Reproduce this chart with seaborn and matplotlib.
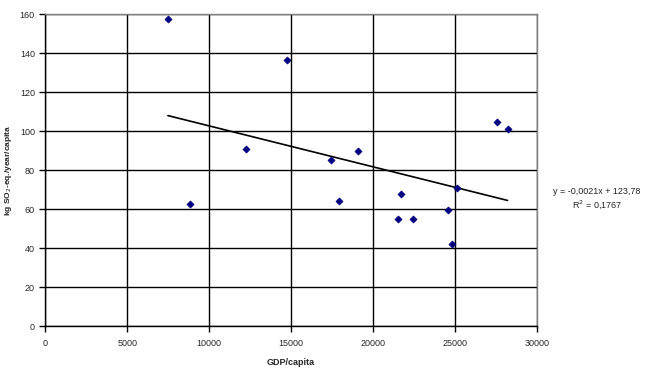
import matplotlib
matplotlib.use('Agg')
import matplotlib.pyplot as plt
import seaborn as sb
import numpy as np
import pandas as pd

gdp = [7480, 8840, 12220, 14740, 17440, 17890, 19050,
       21730, 21510, 22460, 24570, 24800, 25120, 27560, 28200]
so2 = [157.7, 62.6, 90.9, 136.7, 85.3, 64.4, 89.9,
       68.0, 54.9, 55.2, 59.5, 42.0, 70.8, 104.8, 101.3]
slope = -0.0021
intercept = 123.78
r2_text = '0,1767'

var = pd.DataFrame({'gdp': gdp, 'so2': so2})

sb.set_style('white')
plt.rcParams['font.family'] = ['Liberation Sans', 'DejaVu Sans']

fig = plt.figure(figsize=(6.46, 3.74), dpi=100)
ax = fig.add_axes([0.0701, 0.1275, 0.7612, 0.8342])

sb.scatterplot(x='gdp', y='so2', data=var, marker='D', color='#000080',
               s=13, edgecolor='#000080', linewidth=0.5, ax=ax, zorder=3)

xs = np.array([min(gdp), max(gdp)])
ax.plot(xs, slope * xs + intercept, color='black', lw=1.2, zorder=2)

ax.set_xlim(0, 30000)
ax.set_ylim(0, 160)
ax.set_xticks(range(0, 30001, 5000))
ax.set_yticks(range(0, 161, 20))
ax.grid(True, color='black', lw=1)
ax.set_axisbelow(True)
for side in ['top', 'right']:
    ax.spines[side].set_color('#808080')
for side in ['left', 'bottom']:
    ax.spines[side].set_color('black')
for sp in ax.spines.values():
    sp.set_linewidth(1)
ax.tick_params(axis='both', direction='out', length=4, width=1, color='black',
               labelsize=6.5, bottom=True, left=True)
ax.tick_params(axis='x', pad=5)

ax.set_xlabel('GDP/capita', fontsize=6.5, fontweight='bold', labelpad=7)
ax.set_ylabel('kg SO$_2$-eq./year/capita', fontsize=6, fontweight='bold',
              labelpad=4)

fig.text(0.924, 0.468, 'y = -0,0021x + 123,78\nR$^2$ = ' + r2_text,
         ha='center', va='center', fontsize=6.5, linespacing=1.3)

plt.savefig('out.png', dpi=100)
